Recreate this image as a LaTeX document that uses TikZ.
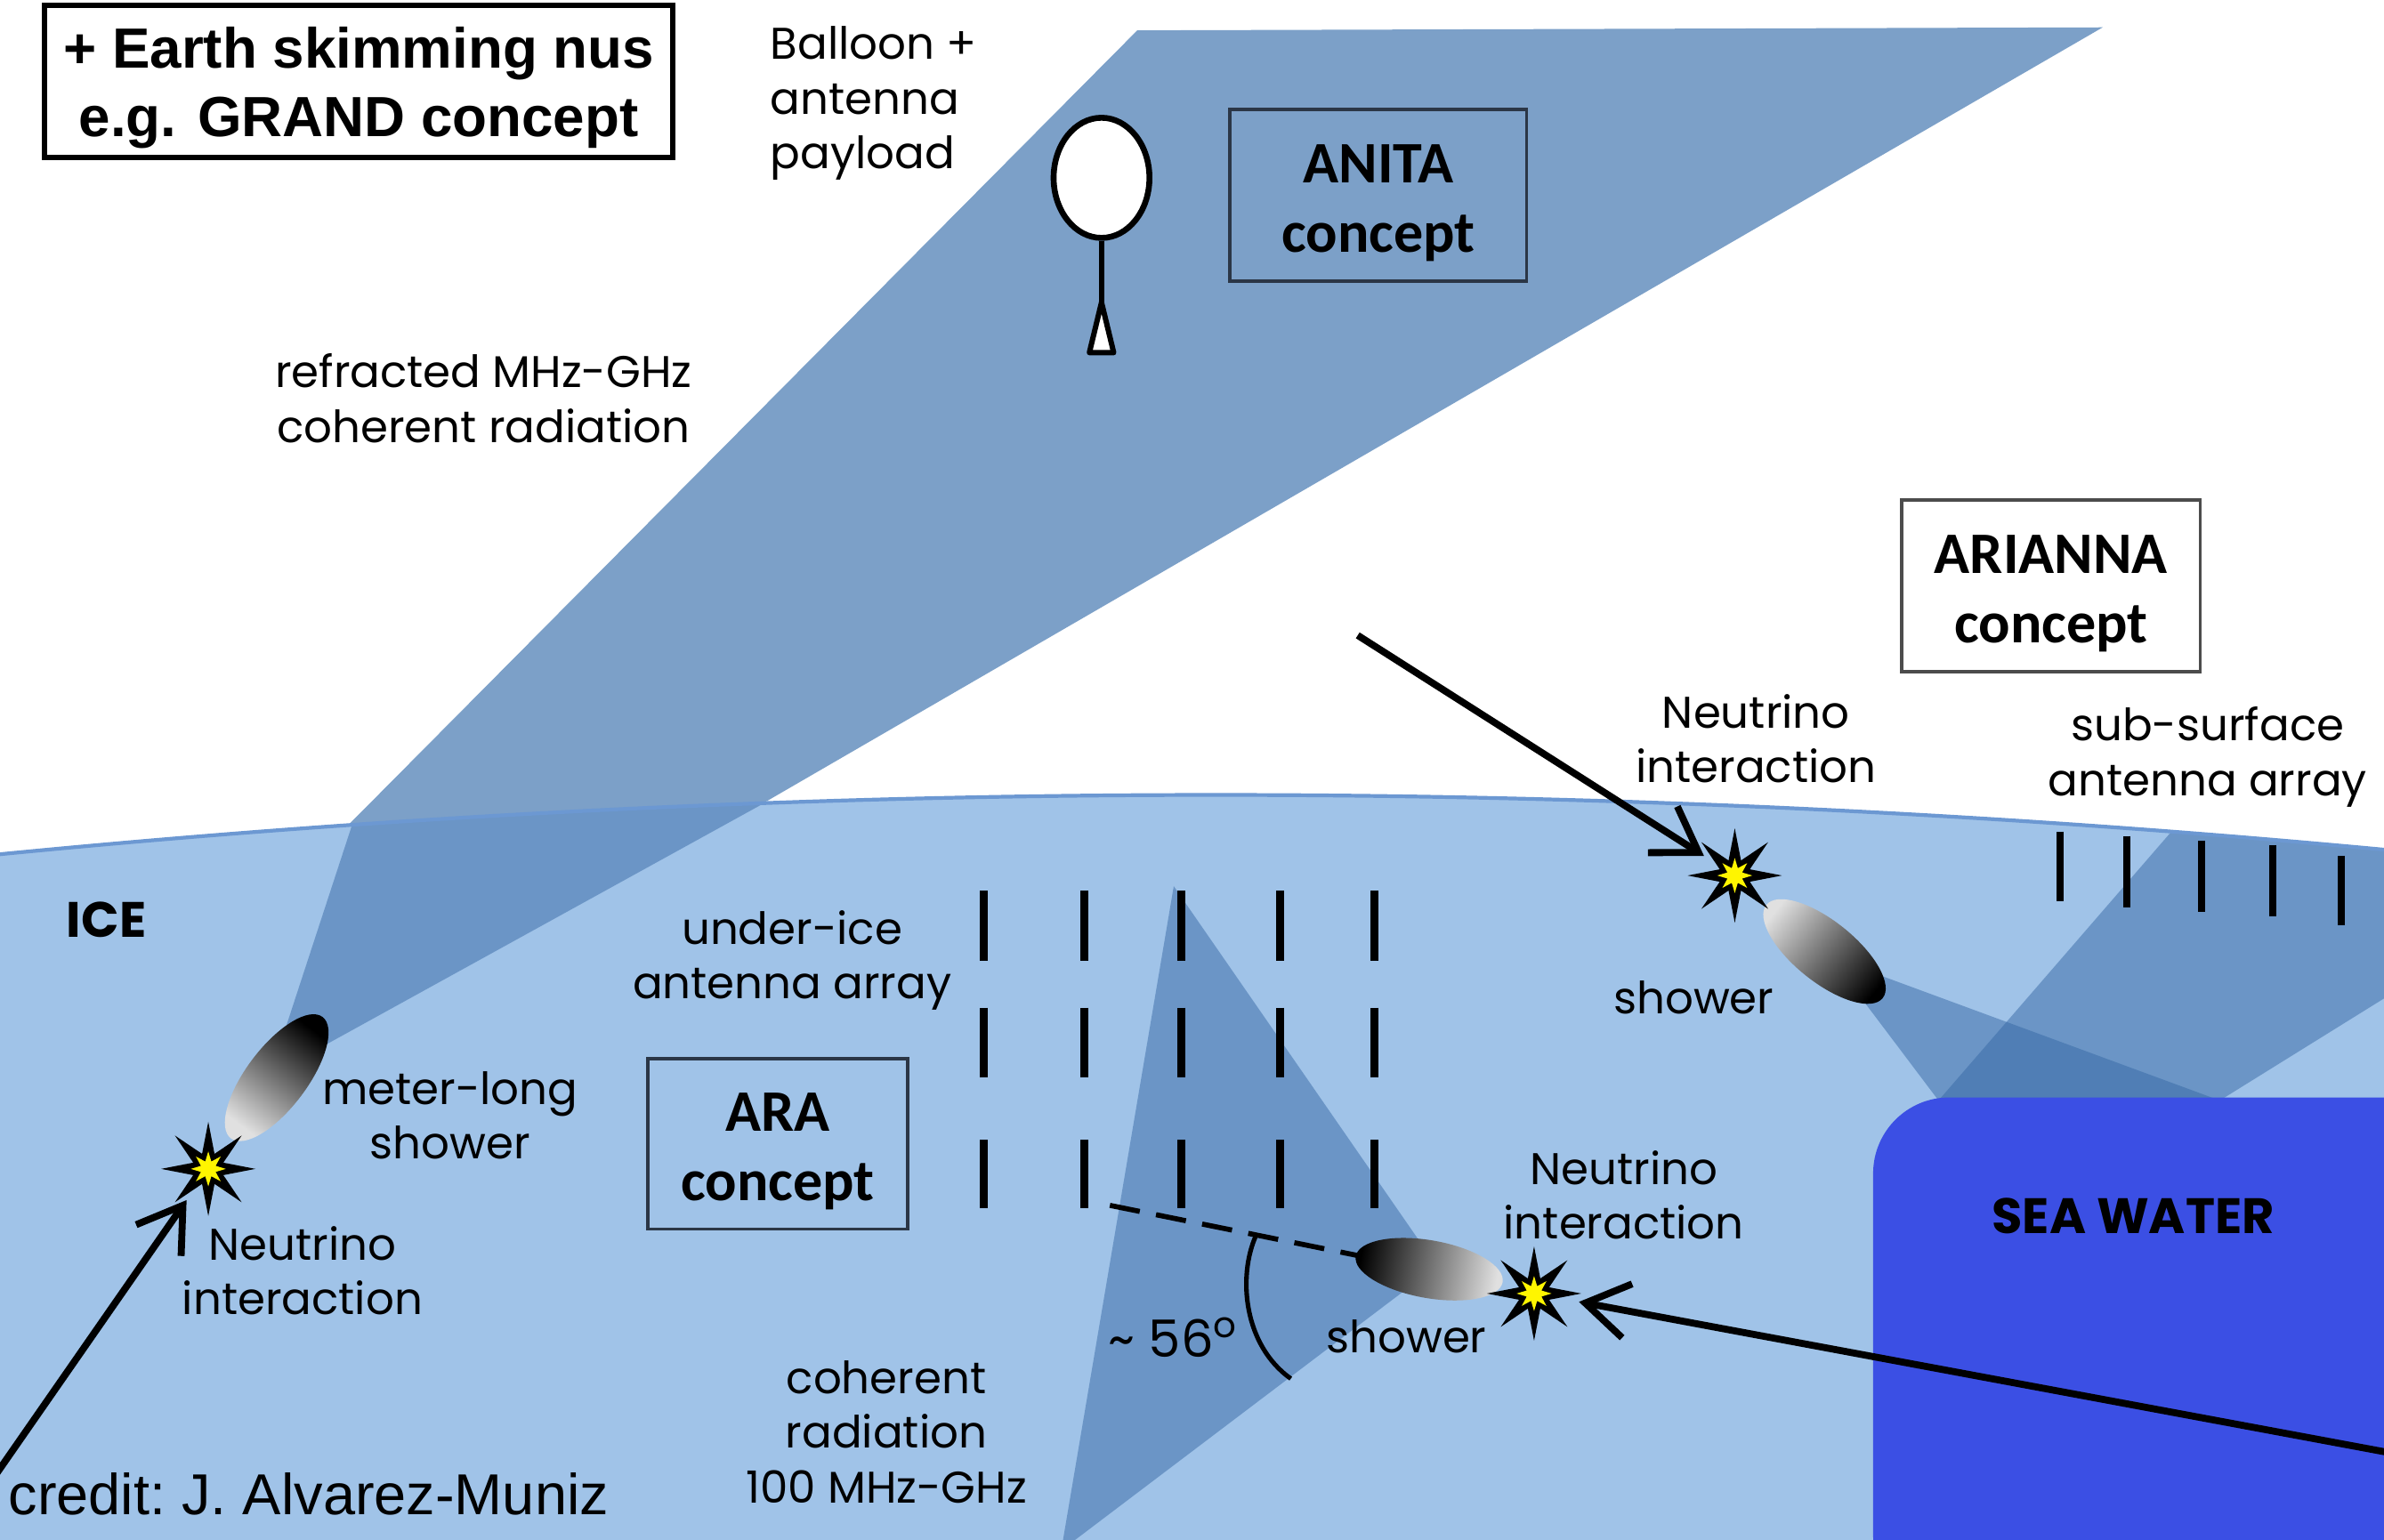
\documentclass[tikz,border=0pt]{standalone}
\usepackage{fontspec}
\setmainfont{Poppins}
\newfontfamily\boxfont{Carlito}
\newfontfamily\helvfont{Liberation Sans}
\usetikzlibrary{shapes.geometric,arrows.meta}

\definecolor{icecol}{HTML}{A0C3E8}
\definecolor{skybeam}{HTML}{7CA0C8}
\definecolor{beamtint}{RGB}{55,105,165}
\definecolor{seacol}{HTML}{3B4FE4}
\definecolor{surfline}{HTML}{6C98D2}
\definecolor{flash}{HTML}{FFF500}
\definecolor{boxline}{HTML}{2B3646}

\begin{document}
\begin{tikzpicture}[x=0.01cm, y=-0.01cm,
  lbl/.style={font=\fontsize{8.3}{10.2}\selectfont, align=center, inner sep=0pt},
  boldlbl/.style={font=\bfseries\fontsize{9.3}{11}\selectfont, inner sep=0pt},
  conceptframe/.style={draw=boxline, line width=0.6pt, inner sep=0pt},
  concepttext/.style={inner sep=0pt, align=center, font=\boxfont\bfseries\fontsize{11}{13}\selectfont},
  inicebeam/.style={fill=beamtint, fill opacity=0.5},
  antenna/.style={line width=1.5pt, line cap=butt},
  burst/.style={star, star points=8, star point ratio=2.9, inner sep=0pt, minimum size=0.62cm, fill=black},
  burstcore/.style={star, star points=8, star point ratio=2.2, inner sep=0pt, minimum size=0.23cm, fill=flash},
  nuarrow/.style={line width=1.3pt, -{Straight Barb[length=0.28cm, width=0.36cm]}},
  shower/.style={top color=black, bottom color=black!12},
]
% canvas
\path[use as bounding box] (0,0) rectangle (1568,1013);
\clip (0,0) rectangle (1568,1013);
\fill[white] (0,0) rectangle (1568,1013);

% radio beam in the air, refracted up towards the balloon
\fill[skybeam] (748,20) -- (1383,18) -- (482,540) -- (212,560) -- cycle;

% ice sheet with its curved surface
\fill[icecol] (0,562) .. controls (522.7,511) and (1045.3,510) .. (1568,559) -- (1600,559) -- (1600,1030) -- (0,1030) -- cycle;

% radiation cones inside the ice
\begin{scope}
  \clip (0,562) .. controls (522.7,511) and (1045.3,510) .. (1568,559) -- (1600,559) -- (1600,1030) -- (0,1030) -- cycle;
  \fill[inicebeam] (239,520) -- (545,505) -- (213,688) -- (185,685) -- cycle;
  \fill[inicebeam] (772,583) -- (945,833) -- (698,1020) -- cycle;
  \fill[inicebeam] (1223,655) -- (1232,640) -- (1460,724) -- (1275,724) -- cycle;
  \fill[inicebeam] (1275,724) -- (1460,724) -- (1600,637) -- (1600,530) -- (1443,530) -- cycle;
\end{scope}

% sea water below the ice shelf
\fill[seacol, rounded corners=0.5cm] (1232,1060) -- (1232,722) -- (1640,722) -- (1640,1060) -- cycle;

% ice surface line
\draw[surfline, line width=0.7pt] (0,562) .. controls (522.7,511) and (1045.3,510) .. (1568,559);

% under-ice antenna array (ARA)
\foreach \x in {647,713,777,842,904} {
  \foreach \ya/\yb in {586/632, 663/709, 750/795} {
    \draw[antenna] (\x,\ya) -- (\x,\yb);
  }
}

% sub-surface antenna array (ARIANNA)
\foreach \x/\ya/\yb in {1355/547/593, 1399/550/597, 1448/553/600, 1495/556/603, 1540/563/609}
  \draw[antenna, line width=1.3pt] (\x,\ya) -- (\x,\yb);

% Cherenkov angle construction
\coordinate (dashstart) at (730,793);
\coordinate (dashend) at (893,826);
\draw[line width=0.95pt, dash pattern=on 5.7pt off 3.1pt] (dashstart) -- (dashend);
\draw[line width=0.85pt] (826,813) .. controls (814,840) and (818,885) .. (849,907);

% particle showers
\shade[shower, shading angle=-37, rotate around={53:(182,709)}] (182,709) ellipse [x radius=0.5cm, y radius=0.2cm];
\shade[shower, shading angle=80, rotate around={-10:(940,835)}] (940,835) ellipse [x radius=0.49cm, y radius=0.19cm];
\shade[shower, shading angle=-128.7, rotate around={-38.7:(1200,626)}] (1200,626) ellipse [x radius=0.49cm, y radius=0.2cm];

% balloon with its payload
\node[ellipse, draw, fill=white, line width=1.1pt, minimum width=0.63cm, minimum height=0.79cm, inner sep=0pt] (balloon) at (724.5,117) {};
\coordinate (payload) at (724.5,199);
\draw[line width=0.9pt] (balloon.south) -- (payload);
\filldraw[fill=white, line width=1pt, line join=round] (payload) -- (732.5,232) -- (716.5,232) -- cycle;

% concept boxes
\node[conceptframe, fill=skybeam, minimum width=1.95cm, minimum height=1.13cm] (anita) at (906.5,128.5) {};
\node[concepttext] (anitatext) at ([yshift=-0.05cm]anita.center) {ANITA\\concept};
\node[conceptframe, fill=white, draw=black!70, minimum width=1.96cm, minimum height=1.13cm] (arianna) at (1349,385.5) {};
\node[concepttext] (ariannatext) at ([yshift=-0.05cm]arianna.center) {ARIANNA\\concept};
\node[conceptframe, minimum width=1.71cm, minimum height=1.12cm] (ara) at (511.5,752.5) {};
\node[concepttext] (aratext) at ([yshift=-0.05cm]ara.center) {ARA\\concept};
\node[draw, line width=1pt, minimum width=4.13cm, minimum height=1.0cm, inner sep=0pt] (grand) at (236,53.5) {};
\node[inner sep=0pt, align=center, font=\helvfont\bfseries\fontsize{10.6}{12.8}\selectfont]
  (grandtext) at ([yshift=-0.04cm]grand.center) {+ Earth skimming nus\\e.g. GRAND concept};

% labels
\node[lbl, align=left, anchor=west] (payloadlbl) at (506,68) {Balloon +\\antenna\\payload};
\node[lbl] (refrlbl) at (318,262) {refracted MHz-GHz\\coherent radiation};
\node[boldlbl] (icelbl) at (70,605) {ICE};
\node[lbl] (arraylbl) at (521,632) {under-ice\\antenna array};
\node[lbl] (meterlbl) at (296,734) {meter-long\\shower};
\node[lbl] (nu1lbl) at (199,836) {Neutrino\\interaction};
\node[lbl] (cohlbl) at (583,942) {coherent\\radiation\\100 MHz-GHz};
\node[lbl, font=\fontsize{9.6}{11}\selectfont] (anglelbl) at (772,880) {\textasciitilde{} 56\textsuperscript{o}};
\node[lbl] (shower2lbl) at (925,879) {shower};
\node[lbl] (nu2lbl) at (1068,786) {Neutrino\\interaction};
\node[boldlbl] (sealbl) at (1403,800) {SEA WATER};
\node[lbl] (shower3lbl) at (1114,656) {shower};
\node[lbl] (nu3lbl) at (1155,486) {Neutrino\\interaction};
\node[lbl] (subsurflbl) at (1452,498) {sub-surface\\antenna array};
\node[anchor=west, inner sep=0pt, font=\helvfont\frenchspacing\fontsize{10.8}{12}\selectfont] (credit) at (5,983) {credit: J. Alvarez-Muniz};

% neutrino interaction points
\node[burst] (star1) at (137,769) {};
\node[burstcore] (core1) at (star1) {};
\node[burst] (star2) at (1009,851) {};
\node[burstcore] (core2) at (star2) {};
\node[burst] (star3) at (1141,576) {};
\node[burstcore] (core3) at (star3) {};

% incoming neutrinos
\coordinate (nu1src) at (-20,995);
\coordinate (nu2src) at (1600,961);
\coordinate (nu3src) at (893,418);
\draw[nuarrow, shorten >=0.25cm] (nu1src) -- (star1.center);
\draw[nuarrow, shorten >=0.3cm] (nu2src) -- (star2.center);
\draw[nuarrow, shorten >=0.24cm] (nu3src) -- (star3.center);
\end{tikzpicture}
\end{document}
